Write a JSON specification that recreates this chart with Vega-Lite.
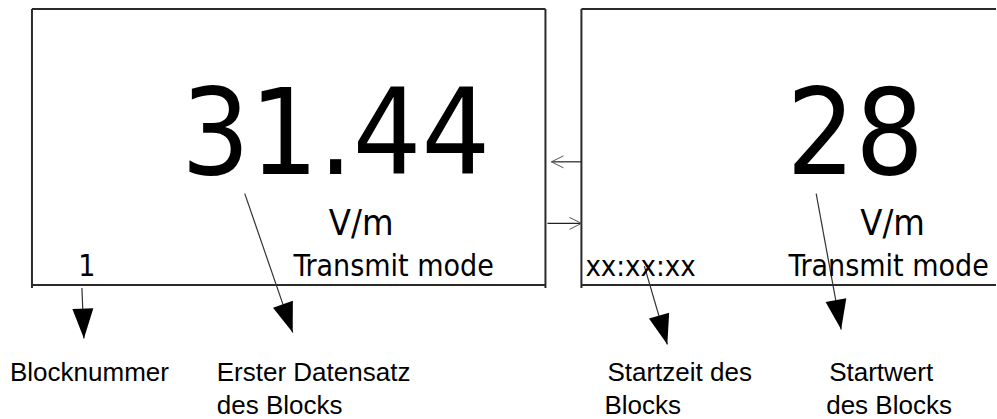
{
  "$schema": "https://vega.github.io/schema/vega-lite/v6.json",
  "width": 997,
  "height": 419,
  "padding": 0,
  "autosize": {"type": "fit", "contains": "padding"},
  "background": "white",
  "config": {"view": {"stroke": null}},
  "datasets": {
    "frame": [
      {"x": 32, "y": 9, "x2": 546, "y2": 9},
      {"x": 32, "y": 287, "x2": 546, "y2": 287},
      {"x": 32, "y": 9, "x2": 32, "y2": 290},
      {"x": 546, "y": 9, "x2": 546, "y2": 290},
      {"x": 582, "y": 9, "x2": 997, "y2": 9},
      {"x": 582, "y": 287, "x2": 997, "y2": 287},
      {"x": 582, "y": 9, "x2": 582, "y2": 290}
    ],
    "pointers": [
      {"label": "Blocknummer", "x": 82, "y": 290, "x2": 84, "y2": 341, "angle": 358},
      {"label": "Erster Datensatz", "x": 245, "y": 195, "x2": 293, "y2": 335, "angle": 341},
      {"label": "Startzeit", "x": 645, "y": 268, "x2": 668, "y2": 347, "angle": 344},
      {"label": "Startwert", "x": 817, "y": 195, "x2": 842, "y2": 332, "angle": 350}
    ],
    "links": [
      {"x": 582, "y": 163, "x2": 552, "y2": 163, "angle": 180},
      {"x": 548, "y": 225, "x2": 582, "y2": 225, "angle": 0}
    ],
    "texts": [
      {"role": "big", "text": "31.44", "x": 336, "y": 175},
      {"role": "big", "text": "28", "x": 856, "y": 175},
      {"role": "unit", "text": "V/m", "x": 361.5, "y": 237},
      {"role": "unit", "text": "V/m", "x": 893.5, "y": 237},
      {"role": "status", "text": "Transmit mode", "x": 394, "y": 278},
      {"role": "status", "text": "Transmit mode", "x": 889.5, "y": 278},
      {"role": "status", "text": "1", "x": 87, "y": 278},
      {"role": "time", "text": "xx:xx:xx", "x": 586, "y": 278},
      {"role": "caption", "text": "Blocknummer", "x": 10, "y": 384},
      {"role": "caption", "text": "Erster Datensatz", "x": 217, "y": 384},
      {"role": "caption", "text": "des Blocks", "x": 217, "y": 417},
      {"role": "caption", "text": "Startzeit des", "x": 608, "y": 384},
      {"role": "caption", "text": "Blocks", "x": 605, "y": 417},
      {"role": "caption", "text": "Startwert", "x": 830, "y": 384},
      {"role": "caption", "text": "des Blocks", "x": 827, "y": 417}
    ]
  },
  "encoding": {
    "x": {"field": "x", "type": "quantitative", "scale": {"domain": [0, 997], "nice": false, "zero": false}, "axis": null},
    "y": {"field": "y", "type": "quantitative", "scale": {"domain": [0, 419], "nice": false, "zero": false, "reverse": true}, "axis": null}
  },
  "layer": [
    {
      "data": {"name": "frame"},
      "mark": {"type": "rule", "stroke": "#2a2a2a", "strokeWidth": 2},
      "encoding": {"x2": {"field": "x2"}, "y2": {"field": "y2"}}
    },
    {
      "data": {"name": "pointers"},
      "mark": {"type": "rule", "stroke": "#333333", "strokeWidth": 1.2},
      "encoding": {"x2": {"field": "x2"}, "y2": {"field": "y2"}}
    },
    {
      "data": {"name": "pointers"},
      "mark": {"type": "point", "shape": "M-0.7,-2L0.7,-2L0,0Z", "filled": true, "fill": "#000000", "opacity": 1, "size": 900, "strokeWidth": 0},
      "encoding": {
        "x": {"field": "x2", "type": "quantitative"},
        "y": {"field": "y2", "type": "quantitative"},
        "angle": {"field": "angle", "type": "quantitative", "scale": null}
      }
    },
    {
      "data": {"name": "links"},
      "mark": {"type": "rule", "stroke": "#222222", "strokeWidth": 1.2},
      "encoding": {"x2": {"field": "x2"}, "y2": {"field": "y2"}}
    },
    {
      "data": {"name": "links"},
      "mark": {"type": "point", "shape": "M-2,-1L0,0L-2,1", "filled": false, "stroke": "#555555", "strokeWidth": 1, "opacity": 1, "size": 144},
      "encoding": {
        "x": {"field": "x2", "type": "quantitative"},
        "angle": {"field": "angle", "type": "quantitative", "scale": null}
      }
    },
    {
      "data": {"name": "texts"},
      "transform": [{"filter": "datum.role === 'big'"}],
      "mark": {"type": "text", "font": "DejaVu Sans Condensed, DejaVu Sans, sans-serif", "fontSize": 120, "align": "center", "baseline": "alphabetic", "color": "#000000"},
      "encoding": {"text": {"field": "text"}}
    },
    {
      "data": {"name": "texts"},
      "transform": [{"filter": "datum.role === 'unit'"}],
      "mark": {"type": "text", "font": "DejaVu Sans Condensed, DejaVu Sans, sans-serif", "fontSize": 36, "align": "center", "baseline": "alphabetic", "color": "#000000"},
      "encoding": {"text": {"field": "text"}}
    },
    {
      "data": {"name": "texts"},
      "transform": [{"filter": "datum.role === 'status'"}],
      "mark": {"type": "text", "font": "DejaVu Sans Condensed, DejaVu Sans, sans-serif", "fontSize": 30, "align": "center", "baseline": "alphabetic", "color": "#000000"},
      "encoding": {"text": {"field": "text"}}
    },
    {
      "data": {"name": "texts"},
      "transform": [{"filter": "datum.role === 'time'"}],
      "mark": {"type": "text", "font": "DejaVu Sans Condensed, DejaVu Sans, sans-serif", "fontSize": 29, "align": "left", "baseline": "alphabetic", "color": "#000000"},
      "encoding": {"text": {"field": "text"}}
    },
    {
      "data": {"name": "texts"},
      "transform": [{"filter": "datum.role === 'caption'"}],
      "mark": {"type": "text", "font": "Liberation Sans, Arial, sans-serif", "fontSize": 26, "align": "left", "baseline": "alphabetic", "color": "#000000"},
      "encoding": {"text": {"field": "text"}}
    }
  ]
}
